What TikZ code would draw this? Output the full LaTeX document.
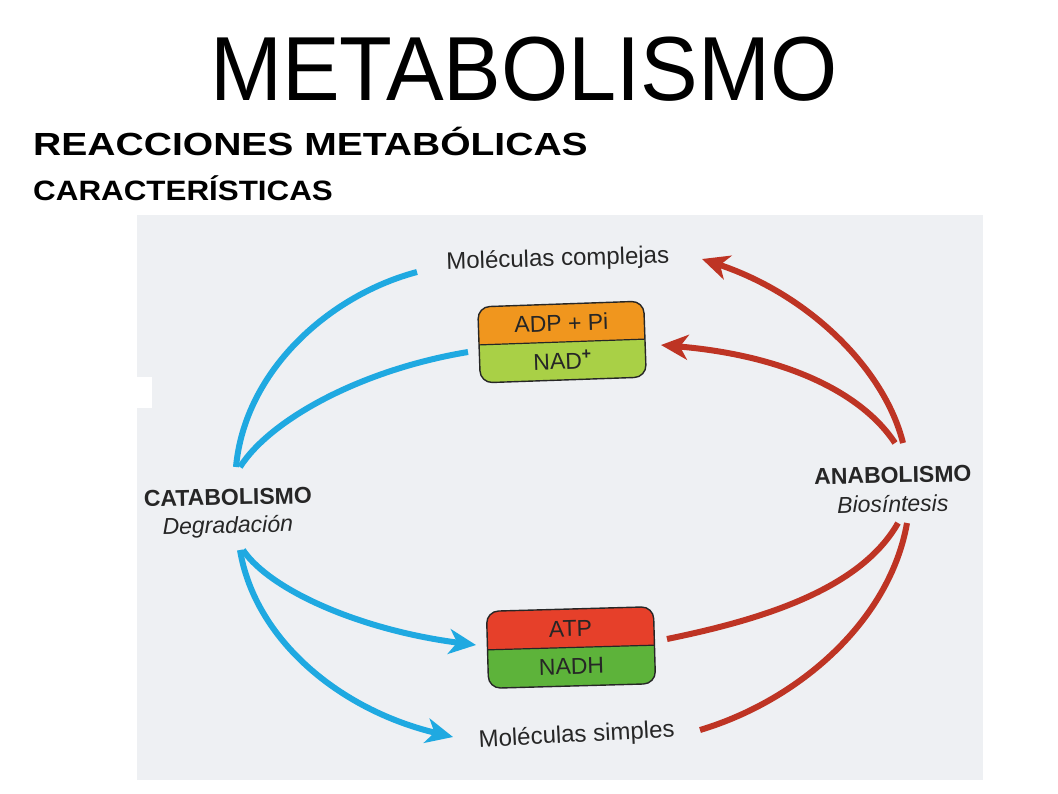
\documentclass[tikz,border=0pt]{standalone}
\usepackage{fontspec}
\setmainfont{Liberation Sans}
\usetikzlibrary{arrows.meta}
\definecolor{bgphoto}{HTML}{EEF0F3}
\definecolor{cyanarr}{HTML}{1FA9E1}
\definecolor{redarr}{HTML}{BE3424}
\definecolor{boxorange}{HTML}{F0961E}
\definecolor{boxlime}{HTML}{A9D046}
\definecolor{boxred}{HTML}{E6402A}
\definecolor{boxgreen}{HTML}{5DB33A}
\definecolor{inktext}{HTML}{262626}
\tikzset{
  bluearc/.style={draw=cyanarr, line width=6pt},
  redarc/.style={draw=redarr, line width=6pt},
  bigtip/.style={-{Stealth[length=27pt, width=25pt, inset=8pt]}},
  phototext/.style={text=inktext, inner sep=0pt, anchor=base, font=\fontsize{24}{24}\selectfont},
  boldlabel/.style={text=inktext, inner sep=0pt, anchor=base, font=\bfseries\fontsize{23}{23}\selectfont},
  itlabel/.style={text=inktext, inner sep=0pt, anchor=base, font=\itshape\fontsize{23}{23}\selectfont},
  boxtext/.style={text=inktext, inner sep=0pt, transform shape, font=\fontsize{23}{23}\selectfont},
  boxframe/.style={draw=black!85, line width=1.4pt, rounded corners=12pt}
}
\begin{document}
\begin{tikzpicture}[x=1pt,y=1pt]
\useasboundingbox (0,0) rectangle (1058,-793);
\fill[white] (0,0) rectangle (1058,-793);
% photo background
\fill[bgphoto] (137,-215) rectangle (983,-780);
\fill[white] (137,-377) rectangle (152,-408);

% headings
\node[anchor=base, inner sep=0pt, xscale=0.95, font=\fontsize{91}{91}\selectfont] (title) at (524,-100) {METABOLISMO};
\node[anchor=base west, inner sep=0pt, xscale=1.22, font=\bfseries\fontsize{32}{32}\selectfont] (sub1) at (33,-155) {REACCIONES METABÓLICAS};
\node[anchor=base west, inner sep=0pt, xscale=1.12, font=\bfseries\fontsize{28}{28}\selectfont] (sub2) at (33,-200) {CARACTERÍSTICAS};

% labels
\node[phototext, rotate=1.7] (complejas) at (558,-266) {Moléculas complejas};
\node[phototext, rotate=3] (simples) at (577,-742) {Moléculas simples};
\node[boldlabel, rotate=1.2] (cata) at (228,-505) {CATABOLISMO};
\node[itlabel, rotate=1.2] (degr) at (228,-533) {Degradación};
\node[boldlabel, rotate=1.2] (ana) at (893,-483) {ANABOLISMO};
\node[itlabel, rotate=1.2] (bios) at (893,-512) {Biosíntesis};

% top box ADP + Pi / NAD+
\begin{scope}[shift={(562,-342)}, rotate=2]
  \begin{scope}
    \clip[rounded corners=12pt] (-83,-38) rectangle (83,38);
    \fill[boxorange] (-83,0) rectangle (83,38);
    \fill[boxlime] (-83,-38) rectangle (83,0);
  \end{scope}
  \draw[boxframe] (-83,-38) rectangle (83,38);
  \draw[black!85, line width=1.2pt] (-83,0) -- (83,0);
  \node[boxtext] (adp) at (0,19) {ADP + Pi};
  \node[boxtext] (nad) at (0,-18) {NAD\textsuperscript{\textbf{+}}};
\end{scope}

% bottom box ATP / NADH
\begin{scope}[shift={(571,-647.5)}, rotate=1.6]
  \begin{scope}
    \clip[rounded corners=12pt] (-83.5,-38.5) rectangle (83.5,38.5);
    \fill[boxred] (-83.5,0) rectangle (83.5,38.5);
    \fill[boxgreen] (-83.5,-38.5) rectangle (83.5,0);
  \end{scope}
  \draw[boxframe] (-83.5,-38.5) rectangle (83.5,38.5);
  \draw[black!85, line width=1.2pt] (-83.5,0) -- (83.5,0);
  \node[boxtext] (atp) at (0,19) {ATP};
  \node[boxtext] (nadh) at (0,-19) {NADH};
\end{scope}

% connector end points
\coordinate (cataUp1) at (236,-467);
\coordinate (cataUp2) at (240,-467);
\coordinate (cataDn1) at (243,-550);
\coordinate (cataDn2) at (240,-550);
\coordinate (complejasL) at (417,-272);
\coordinate (nadL) at (468,-352);
\coordinate (atpL) at (476,-645);
\coordinate (simplesL) at (453,-737);
\coordinate (anaUp1) at (903,-443);
\coordinate (anaUp2) at (895,-443);
\coordinate (anaDn1) at (898,-523);
\coordinate (anaDn2) at (907,-523);
\coordinate (complejasR) at (702,-259);
\coordinate (adpR) at (661,-345);
\coordinate (atpR) at (667,-639);
\coordinate (simplesR) at (700,-730);

% catabolism (blue)
\draw[bluearc] (cataUp1) .. controls (245,-370) and (330,-295) .. (complejasL);
\draw[bluearc] (cataUp2) .. controls (270,-420) and (360,-370) .. (nadL);
\draw[bluearc, bigtip] (cataDn1) .. controls (270,-590) and (360,-630) .. (atpL);
\draw[bluearc, bigtip] (cataDn2) .. controls (255,-640) and (340,-710) .. (simplesL);

% anabolism (red)
\draw[redarc, bigtip] (anaUp1) .. controls (885,-370) and (810,-295) .. (complejasR);
\draw[redarc, bigtip] (anaUp2) .. controls (860,-390) and (780,-355) .. (adpR);
\draw[redarc] (atpR) .. controls (760,-620) and (860,-590) .. (anaDn1);
\draw[redarc] (simplesR) .. controls (800,-700) and (890,-620) .. (anaDn2);
\end{tikzpicture}
\end{document}
